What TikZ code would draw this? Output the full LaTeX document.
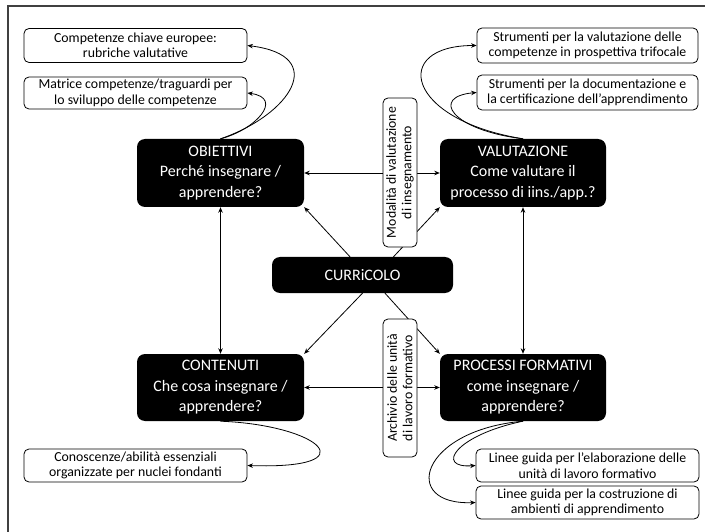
\documentclass[tikz,border=0pt]{standalone}
\usepackage{fontspec}
\setmainfont{Carlito}
\usetikzlibrary{arrows.meta}

\tikzset{
  mainbox/.style={fill=black, text=white, rounded corners=8pt, align=center,
    inner sep=0pt, font=\fontsize{16}{20.5}\selectfont},
  notebox/.style={draw, fill=white, rounded corners=5pt, align=center,
    inner sep=0pt, line width=0.8pt, font=\fontsize{13.8}{15.5}\selectfont},
  vbox/.style={notebox, rotate=90},
  link/.style={line width=0.8pt, -{Stealth[length=5.5pt,width=4.5pt]}},
  dlink/.style={line width=0.8pt, {Stealth[length=5.5pt,width=4.5pt]}-{Stealth[length=5.5pt,width=4.5pt]}},
  frameline/.style={line width=1.3pt, draw=black!75}
}

\begin{document}
\begin{tikzpicture}[x=1pt, y=-1pt]
\useasboundingbox (0,0) rectangle (705,532);
\fill[white] (0,0) rectangle (705,532);
\draw[frameline] (8,532) -- (8,6) -- (705,6);

% note boxes
\node[notebox, minimum width=223, minimum height=34] (n1) at (135.5,45.5)
  {Competenze chiave europee:\\rubriche valutative};
\node[notebox, minimum width=223, minimum height=32] (n2) at (135.5,93)
  {Matrice competenze/traguardi per\\lo sviluppo delle competenze};
\node[notebox, minimum width=221, minimum height=35] (n3) at (587.5,45.5)
  {Strumenti per la valutazione delle\\competenze in prospettiva trifocale};
\node[notebox, minimum width=221, minimum height=35] (n4) at (587.5,92.5)
  {Strumenti per la documentazione e\\la certificazione dell’apprendimento};
\node[notebox, minimum width=223, minimum height=33] (n5) at (135.5,465.5)
  {Conoscenze/abilità essenziali\\organizzate per nuclei fondanti};
\node[notebox, minimum width=223, minimum height=33] (n6) at (587.5,465.5)
  {Linee guida per l’elaborazione delle\\unità di lavoro formativo};
\node[notebox, minimum width=223, minimum height=33] (n7) at (587.5,502.5)
  {Linee guida per la costruzione di\\ambienti di apprendimento};

% main boxes
\node[mainbox, minimum width=167, minimum height=68] (obj) at (220.5,173)
  {OBIETTIVI\\Perché insegnare /\\apprendere?};
\node[mainbox, minimum width=166, minimum height=68] (val) at (523,173)
  {VALUTAZIONE\\Come valutare il\\processo di iins./app.?};
\node[mainbox, minimum width=181, minimum height=36] (cur) at (362.5,275)
  {CURRiCOLO};
\node[mainbox, minimum width=167, minimum height=67] (con) at (220.5,387.5)
  {CONTENUTI\\Che cosa insegnare /\\apprendere?};
\node[mainbox, minimum width=166, minimum height=67] (pro) at (523,387.5)
  {PROCESSI FORMATIVI\\come insegnare /\\apprendere?};

% straight links (the vertical labels are laid over them afterwards)
\draw[dlink] (obj) -- (con);
\draw[dlink] (val) -- (pro);
\draw[dlink] (obj) -- (val);
\draw[dlink] (con) -- (pro);
\draw[link] ([xshift=-12.5pt]cur.north) -- (obj.south east);
\draw[link] ([xshift=31pt]cur.north) -- (val.south west);
\draw[link] (cur.south) -- (con.north east);
\draw[link] ([xshift=22.5pt]cur.south) -- (pro.north west);

% vertical labels on the horizontal links
\node[vbox, minimum width=149, minimum height=34] (mod) at (400,172.5)
  {Modalità di valutazione\\di insegnamento};
\node[vbox, minimum width=138, minimum height=34] (arc) at (400,388)
  {Archivio delle unità\\di lavoro formativo};

% curved links to the note boxes
\draw[link] (obj.north) .. controls +(70,-24) and +(82,10) .. (n1.east);
\draw[link] (obj.north) .. controls +(35,-9) and +(37,5) .. (n2.east);
\draw[link] (val.north) .. controls +(-118,-19) and +(-86,0) .. (n3.west);
\draw[link] (val.north) .. controls +(-73,-9) and +(-46,4) .. (n4.west);
\draw[link] (con.south) .. controls +(100,4) and +(122,4) .. (n5.east);
\draw[link] (pro.south) .. controls +(-68,14) and +(-41,3) .. (n6.west);
\draw[link] (pro.south) .. controls +(-103,9) and +(-76,3) .. (n7.west);
\end{tikzpicture}
\end{document}
